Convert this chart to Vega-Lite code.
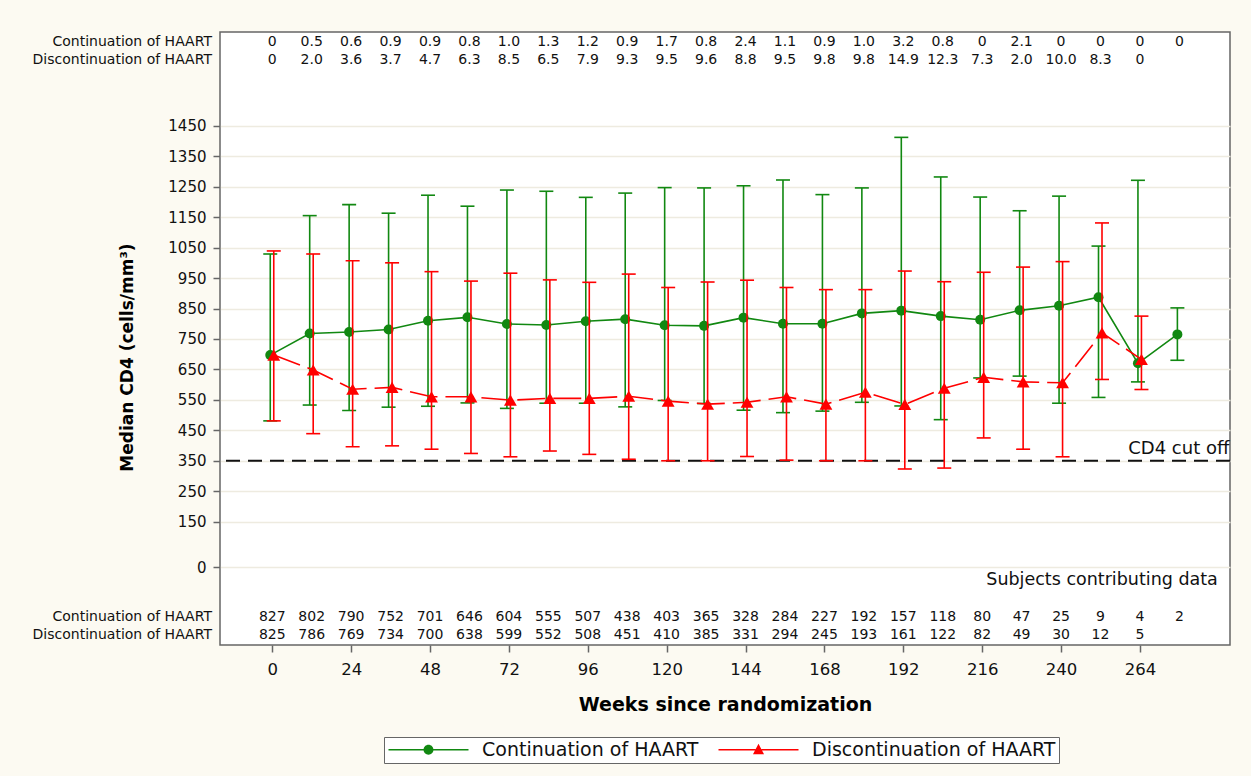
{
  "$schema": "https://vega.github.io/schema/vega-lite/v6.json",
  "width": 1010,
  "height": 613,
  "autosize": {"type": "none"},
  "padding": {"left": 220, "top": 32, "right": 21, "bottom": 131},
  "background": "#FCFAF2",
  "config": {
    "font": "DejaVu Sans",
    "view": {"stroke": "#666666", "strokeWidth": 1.5, "fill": "white"},
    "axisX": {"grid": false, "domain": false, "tickSize": 7, "tickColor": "#666666", "tickWidth": 1.5, "labelFontSize": 16.5, "labelColor": "#111111", "labelPadding": 9, "labelFlush": false, "titleFontSize": 19, "titleFontWeight": "bold", "titleColor": "#000000", "titlePadding": 18},
    "axisY": {"grid": true, "gridColor": "#EEEBE0", "gridWidth": 1.5, "domain": false, "tickSize": 7, "tickColor": "#666666", "tickWidth": 1.5, "labelFontSize": 15, "labelColor": "#111111", "labelPadding": 7, "labelFlush": false, "titleFontSize": 17, "titleFontWeight": "bold", "titleColor": "#000000", "titlePadding": 31, "titleY": 325}
  },
  "datasets": {
    "cd4": [
      {"grp": "Continuation of HAART", "week": 0, "median": 697, "lo": 481, "hi": 1029, "pct": "0", "n": 827},
      {"grp": "Continuation of HAART", "week": 12, "median": 768, "lo": 533, "hi": 1155, "pct": "0.5", "n": 802},
      {"grp": "Continuation of HAART", "week": 24, "median": 773, "lo": 515, "hi": 1191, "pct": "0.6", "n": 790},
      {"grp": "Continuation of HAART", "week": 36, "median": 781, "lo": 526, "hi": 1163, "pct": "0.9", "n": 752},
      {"grp": "Continuation of HAART", "week": 48, "median": 810, "lo": 529, "hi": 1222, "pct": "0.9", "n": 701},
      {"grp": "Continuation of HAART", "week": 60, "median": 821, "lo": 540, "hi": 1186, "pct": "0.8", "n": 646},
      {"grp": "Continuation of HAART", "week": 72, "median": 799, "lo": 522, "hi": 1239, "pct": "1.0", "n": 604},
      {"grp": "Continuation of HAART", "week": 84, "median": 796, "lo": 539, "hi": 1235, "pct": "1.3", "n": 555},
      {"grp": "Continuation of HAART", "week": 96, "median": 808, "lo": 539, "hi": 1215, "pct": "1.2", "n": 507},
      {"grp": "Continuation of HAART", "week": 108, "median": 815, "lo": 527, "hi": 1229, "pct": "0.9", "n": 438},
      {"grp": "Continuation of HAART", "week": 120, "median": 795, "lo": 548, "hi": 1247, "pct": "1.7", "n": 403},
      {"grp": "Continuation of HAART", "week": 132, "median": 793, "lo": 538, "hi": 1246, "pct": "0.8", "n": 365},
      {"grp": "Continuation of HAART", "week": 144, "median": 820, "lo": 516, "hi": 1253, "pct": "2.4", "n": 328},
      {"grp": "Continuation of HAART", "week": 156, "median": 800, "lo": 508, "hi": 1272, "pct": "1.1", "n": 284},
      {"grp": "Continuation of HAART", "week": 168, "median": 800, "lo": 513, "hi": 1224, "pct": "0.9", "n": 227},
      {"grp": "Continuation of HAART", "week": 180, "median": 834, "lo": 542, "hi": 1246, "pct": "1.0", "n": 192},
      {"grp": "Continuation of HAART", "week": 192, "median": 843, "lo": 530, "hi": 1412, "pct": "3.2", "n": 157},
      {"grp": "Continuation of HAART", "week": 204, "median": 825, "lo": 485, "hi": 1282, "pct": "0.8", "n": 118},
      {"grp": "Continuation of HAART", "week": 216, "median": 813, "lo": 622, "hi": 1216, "pct": "0", "n": 80},
      {"grp": "Continuation of HAART", "week": 228, "median": 844, "lo": 628, "hi": 1171, "pct": "2.1", "n": 47},
      {"grp": "Continuation of HAART", "week": 240, "median": 859, "lo": 539, "hi": 1219, "pct": "0", "n": 25},
      {"grp": "Continuation of HAART", "week": 252, "median": 887, "lo": 558, "hi": 1055, "pct": "0", "n": 9},
      {"grp": "Continuation of HAART", "week": 264, "median": 670, "lo": 609, "hi": 1271, "pct": "0", "n": 4},
      {"grp": "Continuation of HAART", "week": 276, "median": 765, "lo": 680, "hi": 852, "pct": "0", "n": 2},
      {"grp": "Discontinuation of HAART", "week": 0, "median": 697, "lo": 481, "hi": 1039, "pct": "0", "n": 825},
      {"grp": "Discontinuation of HAART", "week": 12, "median": 648, "lo": 439, "hi": 1029, "pct": "2.0", "n": 786},
      {"grp": "Discontinuation of HAART", "week": 24, "median": 585, "lo": 396, "hi": 1007, "pct": "3.6", "n": 769},
      {"grp": "Discontinuation of HAART", "week": 36, "median": 591, "lo": 399, "hi": 1000, "pct": "3.7", "n": 734},
      {"grp": "Discontinuation of HAART", "week": 48, "median": 560, "lo": 388, "hi": 971, "pct": "4.7", "n": 700},
      {"grp": "Discontinuation of HAART", "week": 60, "median": 560, "lo": 374, "hi": 940, "pct": "6.3", "n": 638},
      {"grp": "Discontinuation of HAART", "week": 72, "median": 549, "lo": 363, "hi": 966, "pct": "8.5", "n": 599},
      {"grp": "Discontinuation of HAART", "week": 84, "median": 555, "lo": 382, "hi": 944, "pct": "6.5", "n": 552},
      {"grp": "Discontinuation of HAART", "week": 96, "median": 555, "lo": 371, "hi": 936, "pct": "7.9", "n": 508},
      {"grp": "Discontinuation of HAART", "week": 108, "median": 562, "lo": 355, "hi": 963, "pct": "9.3", "n": 451},
      {"grp": "Discontinuation of HAART", "week": 120, "median": 546, "lo": 350, "hi": 919, "pct": "9.5", "n": 410},
      {"grp": "Discontinuation of HAART", "week": 132, "median": 536, "lo": 350, "hi": 937, "pct": "9.6", "n": 385},
      {"grp": "Discontinuation of HAART", "week": 144, "median": 542, "lo": 364, "hi": 943, "pct": "8.8", "n": 331},
      {"grp": "Discontinuation of HAART", "week": 156, "median": 560, "lo": 352, "hi": 919, "pct": "9.5", "n": 294},
      {"grp": "Discontinuation of HAART", "week": 168, "median": 536, "lo": 350, "hi": 912, "pct": "9.8", "n": 245},
      {"grp": "Discontinuation of HAART", "week": 180, "median": 575, "lo": 350, "hi": 912, "pct": "9.8", "n": 193},
      {"grp": "Discontinuation of HAART", "week": 192, "median": 535, "lo": 323, "hi": 973, "pct": "14.9", "n": 161},
      {"grp": "Discontinuation of HAART", "week": 204, "median": 588, "lo": 326, "hi": 938, "pct": "12.3", "n": 122},
      {"grp": "Discontinuation of HAART", "week": 216, "median": 624, "lo": 425, "hi": 969, "pct": "7.3", "n": 82},
      {"grp": "Discontinuation of HAART", "week": 228, "median": 609, "lo": 388, "hi": 986, "pct": "2.0", "n": 49},
      {"grp": "Discontinuation of HAART", "week": 240, "median": 606, "lo": 363, "hi": 1004, "pct": "10.0", "n": 30},
      {"grp": "Discontinuation of HAART", "week": 252, "median": 770, "lo": 617, "hi": 1131, "pct": "8.3", "n": 12},
      {"grp": "Discontinuation of HAART", "week": 264, "median": 683, "lo": 584, "hi": 825, "pct": "0", "n": 5}
    ]
  },
  "data": {"name": "cd4"},
  "layer": [
    {
      "transform": [{"filter": "datum.grp === 'Continuation of HAART'"}],
      "mark": {"type": "rule", "color": "#118811", "strokeWidth": 1.6, "xOffset": -2},
      "encoding": {
        "x": {"field": "week", "type": "quantitative", "scale": {"domain": [-15.9, 291.4], "nice": false, "zero": false}, "title": "Weeks since randomization", "axis": {"values": [0, 24, 48, 72, 96, 120, 144, 168, 192, 216, 240, 264], "format": "d"}},
        "y": {"field": "lo", "type": "quantitative", "scale": {"domain": [-255, 1758], "nice": false, "zero": false}, "title": "Median CD4 (cells/mm³)", "axis": {"values": [0, 150, 250, 350, 450, 550, 650, 750, 850, 950, 1050, 1150, 1250, 1350, 1450], "format": "d"}},
        "y2": {"field": "hi"}
      }
    },
    {
      "data": {"values": [{"ref": 350}]},
      "mark": {"type": "rule", "color": "#111111", "strokeWidth": 2, "strokeDash": [14, 8]},
      "encoding": {
        "y": {"field": "ref", "type": "quantitative", "scale": {"domain": [-255, 1758], "nice": false, "zero": false}, "title": "Median CD4 (cells/mm³)", "axis": {"values": [0, 150, 250, 350, 450, 550, 650, 750, 850, 950, 1050, 1150, 1250, 1350, 1450], "format": "d"}}
      }
    },
    {
      "transform": [{"filter": "datum.grp === 'Continuation of HAART'"}],
      "mark": {"type": "tick", "orient": "horizontal", "size": 14, "thickness": 1.6, "color": "#118811", "opacity": 1, "xOffset": -2},
      "encoding": {
        "x": {"field": "week", "type": "quantitative", "scale": {"domain": [-15.9, 291.4], "nice": false, "zero": false}, "title": "Weeks since randomization", "axis": {"values": [0, 24, 48, 72, 96, 120, 144, 168, 192, 216, 240, 264], "format": "d"}},
        "y": {"field": "lo", "type": "quantitative", "scale": {"domain": [-255, 1758], "nice": false, "zero": false}, "title": "Median CD4 (cells/mm³)", "axis": {"values": [0, 150, 250, 350, 450, 550, 650, 750, 850, 950, 1050, 1150, 1250, 1350, 1450], "format": "d"}}
      }
    },
    {
      "transform": [{"filter": "datum.grp === 'Continuation of HAART'"}],
      "mark": {"type": "tick", "orient": "horizontal", "size": 14, "thickness": 1.6, "color": "#118811", "opacity": 1, "xOffset": -2},
      "encoding": {
        "x": {"field": "week", "type": "quantitative", "scale": {"domain": [-15.9, 291.4], "nice": false, "zero": false}, "title": "Weeks since randomization", "axis": {"values": [0, 24, 48, 72, 96, 120, 144, 168, 192, 216, 240, 264], "format": "d"}},
        "y": {"field": "hi", "type": "quantitative", "scale": {"domain": [-255, 1758], "nice": false, "zero": false}, "title": "Median CD4 (cells/mm³)", "axis": {"values": [0, 150, 250, 350, 450, 550, 650, 750, 850, 950, 1050, 1150, 1250, 1350, 1450], "format": "d"}}
      }
    },
    {
      "transform": [{"filter": "datum.grp === 'Continuation of HAART'"}],
      "mark": {"type": "line", "color": "#118811", "strokeWidth": 1.6, "xOffset": -2},
      "encoding": {
        "x": {"field": "week", "type": "quantitative", "scale": {"domain": [-15.9, 291.4], "nice": false, "zero": false}, "title": "Weeks since randomization", "axis": {"values": [0, 24, 48, 72, 96, 120, 144, 168, 192, 216, 240, 264], "format": "d"}},
        "y": {"field": "median", "type": "quantitative", "scale": {"domain": [-255, 1758], "nice": false, "zero": false}, "title": "Median CD4 (cells/mm³)", "axis": {"values": [0, 150, 250, 350, 450, 550, 650, 750, 850, 950, 1050, 1150, 1250, 1350, 1450], "format": "d"}}
      }
    },
    {
      "transform": [{"filter": "datum.grp === 'Continuation of HAART'"}],
      "mark": {"type": "point", "shape": "circle", "filled": true, "size": 100, "color": "#118811", "opacity": 1, "xOffset": -2},
      "encoding": {
        "x": {"field": "week", "type": "quantitative", "scale": {"domain": [-15.9, 291.4], "nice": false, "zero": false}, "title": "Weeks since randomization", "axis": {"values": [0, 24, 48, 72, 96, 120, 144, 168, 192, 216, 240, 264], "format": "d"}},
        "y": {"field": "median", "type": "quantitative", "scale": {"domain": [-255, 1758], "nice": false, "zero": false}, "title": "Median CD4 (cells/mm³)", "axis": {"values": [0, 150, 250, 350, 450, 550, 650, 750, 850, 950, 1050, 1150, 1250, 1350, 1450], "format": "d"}}
      }
    },
    {
      "transform": [{"filter": "datum.grp === 'Discontinuation of HAART'"}],
      "mark": {"type": "rule", "color": "#FF0000", "strokeWidth": 1.6, "xOffset": 1.5},
      "encoding": {
        "x": {"field": "week", "type": "quantitative", "scale": {"domain": [-15.9, 291.4], "nice": false, "zero": false}, "title": "Weeks since randomization", "axis": {"values": [0, 24, 48, 72, 96, 120, 144, 168, 192, 216, 240, 264], "format": "d"}},
        "y": {"field": "lo", "type": "quantitative", "scale": {"domain": [-255, 1758], "nice": false, "zero": false}, "title": "Median CD4 (cells/mm³)", "axis": {"values": [0, 150, 250, 350, 450, 550, 650, 750, 850, 950, 1050, 1150, 1250, 1350, 1450], "format": "d"}},
        "y2": {"field": "hi"}
      }
    },
    {
      "transform": [{"filter": "datum.grp === 'Discontinuation of HAART'"}],
      "mark": {"type": "tick", "orient": "horizontal", "size": 14, "thickness": 1.6, "color": "#FF0000", "opacity": 1, "xOffset": 1.5},
      "encoding": {
        "x": {"field": "week", "type": "quantitative", "scale": {"domain": [-15.9, 291.4], "nice": false, "zero": false}, "title": "Weeks since randomization", "axis": {"values": [0, 24, 48, 72, 96, 120, 144, 168, 192, 216, 240, 264], "format": "d"}},
        "y": {"field": "lo", "type": "quantitative", "scale": {"domain": [-255, 1758], "nice": false, "zero": false}, "title": "Median CD4 (cells/mm³)", "axis": {"values": [0, 150, 250, 350, 450, 550, 650, 750, 850, 950, 1050, 1150, 1250, 1350, 1450], "format": "d"}}
      }
    },
    {
      "transform": [{"filter": "datum.grp === 'Discontinuation of HAART'"}],
      "mark": {"type": "tick", "orient": "horizontal", "size": 14, "thickness": 1.6, "color": "#FF0000", "opacity": 1, "xOffset": 1.5},
      "encoding": {
        "x": {"field": "week", "type": "quantitative", "scale": {"domain": [-15.9, 291.4], "nice": false, "zero": false}, "title": "Weeks since randomization", "axis": {"values": [0, 24, 48, 72, 96, 120, 144, 168, 192, 216, 240, 264], "format": "d"}},
        "y": {"field": "hi", "type": "quantitative", "scale": {"domain": [-255, 1758], "nice": false, "zero": false}, "title": "Median CD4 (cells/mm³)", "axis": {"values": [0, 150, 250, 350, 450, 550, 650, 750, 850, 950, 1050, 1150, 1250, 1350, 1450], "format": "d"}}
      }
    },
    {
      "transform": [{"filter": "datum.grp === 'Discontinuation of HAART'"}],
      "mark": {"type": "line", "color": "#FF0000", "strokeWidth": 1.6, "strokeDash": [28, 8], "xOffset": 1.5},
      "encoding": {
        "x": {"field": "week", "type": "quantitative", "scale": {"domain": [-15.9, 291.4], "nice": false, "zero": false}, "title": "Weeks since randomization", "axis": {"values": [0, 24, 48, 72, 96, 120, 144, 168, 192, 216, 240, 264], "format": "d"}},
        "y": {"field": "median", "type": "quantitative", "scale": {"domain": [-255, 1758], "nice": false, "zero": false}, "title": "Median CD4 (cells/mm³)", "axis": {"values": [0, 150, 250, 350, 450, 550, 650, 750, 850, 950, 1050, 1150, 1250, 1350, 1450], "format": "d"}}
      }
    },
    {
      "transform": [{"filter": "datum.grp === 'Discontinuation of HAART'"}],
      "mark": {"type": "point", "shape": "triangle-up", "filled": true, "size": 165, "color": "#FF0000", "opacity": 1, "xOffset": 1.5},
      "encoding": {
        "x": {"field": "week", "type": "quantitative", "scale": {"domain": [-15.9, 291.4], "nice": false, "zero": false}, "title": "Weeks since randomization", "axis": {"values": [0, 24, 48, 72, 96, 120, 144, 168, 192, 216, 240, 264], "format": "d"}},
        "y": {"field": "median", "type": "quantitative", "scale": {"domain": [-255, 1758], "nice": false, "zero": false}, "title": "Median CD4 (cells/mm³)", "axis": {"values": [0, 150, 250, 350, 450, 550, 650, 750, 850, 950, 1050, 1150, 1250, 1350, 1450], "format": "d"}}
      }
    },
    {
      "transform": [{"filter": "datum.grp === 'Continuation of HAART'"}],
      "mark": {"type": "text", "fontSize": 14, "color": "#111111", "baseline": "middle", "align": "center"},
      "encoding": {
        "x": {"field": "week", "type": "quantitative", "scale": {"domain": [-15.9, 291.4], "nice": false, "zero": false}, "title": "Weeks since randomization", "axis": {"values": [0, 24, 48, 72, 96, 120, 144, 168, 192, 216, 240, 264], "format": "d"}},
        "y": {"datum": 1725, "type": "quantitative", "scale": {"domain": [-255, 1758], "nice": false, "zero": false}, "title": "Median CD4 (cells/mm³)", "axis": {"values": [0, 150, 250, 350, 450, 550, 650, 750, 850, 950, 1050, 1150, 1250, 1350, 1450], "format": "d"}},
        "text": {"field": "pct"}
      }
    },
    {
      "transform": [{"filter": "datum.grp === 'Discontinuation of HAART'"}],
      "mark": {"type": "text", "fontSize": 14, "color": "#111111", "baseline": "middle", "align": "center"},
      "encoding": {
        "x": {"field": "week", "type": "quantitative", "scale": {"domain": [-15.9, 291.4], "nice": false, "zero": false}, "title": "Weeks since randomization", "axis": {"values": [0, 24, 48, 72, 96, 120, 144, 168, 192, 216, 240, 264], "format": "d"}},
        "y": {"datum": 1666, "type": "quantitative", "scale": {"domain": [-255, 1758], "nice": false, "zero": false}, "title": "Median CD4 (cells/mm³)", "axis": {"values": [0, 150, 250, 350, 450, 550, 650, 750, 850, 950, 1050, 1150, 1250, 1350, 1450], "format": "d"}},
        "text": {"field": "pct"}
      }
    },
    {
      "transform": [{"filter": "datum.grp === 'Continuation of HAART'"}],
      "mark": {"type": "text", "fontSize": 14, "color": "#111111", "baseline": "middle", "align": "center"},
      "encoding": {
        "x": {"field": "week", "type": "quantitative", "scale": {"domain": [-15.9, 291.4], "nice": false, "zero": false}, "title": "Weeks since randomization", "axis": {"values": [0, 24, 48, 72, 96, 120, 144, 168, 192, 216, 240, 264], "format": "d"}},
        "y": {"datum": -163, "type": "quantitative", "scale": {"domain": [-255, 1758], "nice": false, "zero": false}, "title": "Median CD4 (cells/mm³)", "axis": {"values": [0, 150, 250, 350, 450, 550, 650, 750, 850, 950, 1050, 1150, 1250, 1350, 1450], "format": "d"}},
        "text": {"field": "n", "type": "quantitative"}
      }
    },
    {
      "transform": [{"filter": "datum.grp === 'Discontinuation of HAART'"}],
      "mark": {"type": "text", "fontSize": 14, "color": "#111111", "baseline": "middle", "align": "center"},
      "encoding": {
        "x": {"field": "week", "type": "quantitative", "scale": {"domain": [-15.9, 291.4], "nice": false, "zero": false}, "title": "Weeks since randomization", "axis": {"values": [0, 24, 48, 72, 96, 120, 144, 168, 192, 216, 240, 264], "format": "d"}},
        "y": {"datum": -222, "type": "quantitative", "scale": {"domain": [-255, 1758], "nice": false, "zero": false}, "title": "Median CD4 (cells/mm³)", "axis": {"values": [0, 150, 250, 350, 450, 550, 650, 750, 850, 950, 1050, 1150, 1250, 1350, 1450], "format": "d"}},
        "text": {"field": "n", "type": "quantitative"}
      }
    },
    {
      "data": {"values": [{"t": "Continuation of HAART"}]},
      "mark": {"type": "text", "fontSize": 14, "color": "#111111", "baseline": "middle", "align": "right"},
      "encoding": {
        "x": {"datum": -18.35, "type": "quantitative", "scale": {"domain": [-15.9, 291.4], "nice": false, "zero": false}, "title": "Weeks since randomization", "axis": {"values": [0, 24, 48, 72, 96, 120, 144, 168, 192, 216, 240, 264], "format": "d"}},
        "y": {"datum": 1725, "type": "quantitative", "scale": {"domain": [-255, 1758], "nice": false, "zero": false}, "title": "Median CD4 (cells/mm³)", "axis": {"values": [0, 150, 250, 350, 450, 550, 650, 750, 850, 950, 1050, 1150, 1250, 1350, 1450], "format": "d"}},
        "text": {"field": "t"}
      }
    },
    {
      "data": {"values": [{"t": "Discontinuation of HAART"}]},
      "mark": {"type": "text", "fontSize": 14, "color": "#111111", "baseline": "middle", "align": "right"},
      "encoding": {
        "x": {"datum": -18.35, "type": "quantitative", "scale": {"domain": [-15.9, 291.4], "nice": false, "zero": false}, "title": "Weeks since randomization", "axis": {"values": [0, 24, 48, 72, 96, 120, 144, 168, 192, 216, 240, 264], "format": "d"}},
        "y": {"datum": 1666, "type": "quantitative", "scale": {"domain": [-255, 1758], "nice": false, "zero": false}, "title": "Median CD4 (cells/mm³)", "axis": {"values": [0, 150, 250, 350, 450, 550, 650, 750, 850, 950, 1050, 1150, 1250, 1350, 1450], "format": "d"}},
        "text": {"field": "t"}
      }
    },
    {
      "data": {"values": [{"t": "Continuation of HAART"}]},
      "mark": {"type": "text", "fontSize": 14, "color": "#111111", "baseline": "middle", "align": "right"},
      "encoding": {
        "x": {"datum": -18.35, "type": "quantitative", "scale": {"domain": [-15.9, 291.4], "nice": false, "zero": false}, "title": "Weeks since randomization", "axis": {"values": [0, 24, 48, 72, 96, 120, 144, 168, 192, 216, 240, 264], "format": "d"}},
        "y": {"datum": -163, "type": "quantitative", "scale": {"domain": [-255, 1758], "nice": false, "zero": false}, "title": "Median CD4 (cells/mm³)", "axis": {"values": [0, 150, 250, 350, 450, 550, 650, 750, 850, 950, 1050, 1150, 1250, 1350, 1450], "format": "d"}},
        "text": {"field": "t"}
      }
    },
    {
      "data": {"values": [{"t": "Discontinuation of HAART"}]},
      "mark": {"type": "text", "fontSize": 14, "color": "#111111", "baseline": "middle", "align": "right"},
      "encoding": {
        "x": {"datum": -18.35, "type": "quantitative", "scale": {"domain": [-15.9, 291.4], "nice": false, "zero": false}, "title": "Weeks since randomization", "axis": {"values": [0, 24, 48, 72, 96, 120, 144, 168, 192, 216, 240, 264], "format": "d"}},
        "y": {"datum": -222, "type": "quantitative", "scale": {"domain": [-255, 1758], "nice": false, "zero": false}, "title": "Median CD4 (cells/mm³)", "axis": {"values": [0, 150, 250, 350, 450, 550, 650, 750, 850, 950, 1050, 1150, 1250, 1350, 1450], "format": "d"}},
        "text": {"field": "t"}
      }
    },
    {
      "data": {"values": [{"t": "CD4 cut off"}]},
      "mark": {"type": "text", "fontSize": 18, "color": "#111111", "baseline": "bottom", "align": "right", "dy": -3},
      "encoding": {
        "x": {"datum": 291.2, "type": "quantitative", "scale": {"domain": [-15.9, 291.4], "nice": false, "zero": false}, "title": "Weeks since randomization", "axis": {"values": [0, 24, 48, 72, 96, 120, 144, 168, 192, 216, 240, 264], "format": "d"}},
        "y": {"datum": 350, "type": "quantitative", "scale": {"domain": [-255, 1758], "nice": false, "zero": false}, "title": "Median CD4 (cells/mm³)", "axis": {"values": [0, 150, 250, 350, 450, 550, 650, 750, 850, 950, 1050, 1150, 1250, 1350, 1450], "format": "d"}},
        "text": {"field": "t"}
      }
    },
    {
      "data": {"values": [{"t": "Subjects contributing data"}]},
      "mark": {"type": "text", "fontSize": 17.5, "color": "#111111", "baseline": "middle", "align": "right"},
      "encoding": {
        "x": {"datum": 287.7, "type": "quantitative", "scale": {"domain": [-15.9, 291.4], "nice": false, "zero": false}, "title": "Weeks since randomization", "axis": {"values": [0, 24, 48, 72, 96, 120, 144, 168, 192, 216, 240, 264], "format": "d"}},
        "y": {"datum": -42, "type": "quantitative", "scale": {"domain": [-255, 1758], "nice": false, "zero": false}, "title": "Median CD4 (cells/mm³)", "axis": {"values": [0, 150, 250, 350, 450, 550, 650, 750, 850, 950, 1050, 1150, 1250, 1350, 1450], "format": "d"}},
        "text": {"field": "t"}
      }
    },
    {
      "mark": {"type": "point", "filled": true, "opacity": 1, "clip": true},
      "encoding": {
        "x": {"field": "week", "type": "quantitative", "scale": {"domain": [-15.9, 291.4], "nice": false, "zero": false}, "title": "Weeks since randomization", "axis": {"values": [0, 24, 48, 72, 96, 120, 144, 168, 192, 216, 240, 264], "format": "d"}},
        "y": {"datum": -5000, "type": "quantitative", "scale": {"domain": [-255, 1758], "nice": false, "zero": false}, "title": "Median CD4 (cells/mm³)", "axis": {"values": [0, 150, 250, 350, 450, 550, 650, 750, 850, 950, 1050, 1150, 1250, 1350, 1450], "format": "d"}},
        "color": {"field": "grp", "type": "nominal",
          "scale": {"domain": ["Continuation of HAART", "Discontinuation of HAART"], "range": ["#118811", "#FF0000"]},
          "legend": {"title": null, "orient": "none", "legendX": 164, "legendY": 705, "direction": "horizontal", "symbolSize": 256, "symbolStrokeWidth": 0, "labelFontSize": 19, "labelColor": "#111111", "labelOffset": 76, "labelLimit": 0, "columnPadding": 18, "padding": 3, "strokeColor": "#666666", "fillColor": "white", "symbolOpacity": 1}},
        "shape": {"field": "grp", "type": "nominal",
          "scale": {"domain": ["Continuation of HAART", "Discontinuation of HAART"], "range": ["M-1,-0.1H3.4V0.1H-1Z M4.6,-0.1H9V0.1H4.6Z M3.38,0A0.62,0.62,0,1,1,4.62,0A0.62,0.62,0,1,1,3.38,0Z", "M-1,-0.1H3.62V0.1H-1Z M4.38,-0.1H9V0.1H4.38Z M4,-0.76L4.69,0.56H3.31Z"]},
          "legend": {"title": null, "orient": "none", "legendX": 164, "legendY": 705, "direction": "horizontal", "symbolSize": 256, "symbolStrokeWidth": 0, "labelFontSize": 19, "labelColor": "#111111", "labelOffset": 76, "labelLimit": 0, "columnPadding": 18, "padding": 3, "strokeColor": "#666666", "fillColor": "white", "symbolOpacity": 1}}
      }
    }
  ]
}
